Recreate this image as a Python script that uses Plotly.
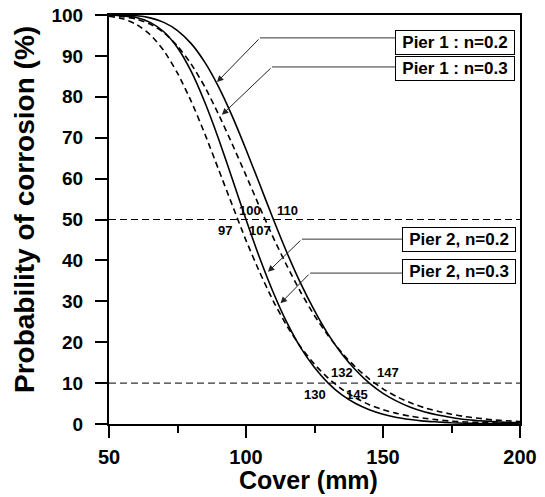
import plotly.graph_objects as go

# ---- data ----
cover = [50, 55, 60, 65, 70, 75, 80, 85, 90, 95, 100, 105, 110, 115, 120, 125, 130,
         135, 140, 145, 150, 155, 160, 165, 170, 175, 180, 185, 190, 195, 200]

pier1_n02 = [100.0, 99.9, 99.8, 99.3, 98.2, 96.2, 93.0, 88.4, 82.4, 75.2, 67.1, 58.6, 50.0,
             41.8, 34.3, 27.7, 21.9, 17.1, 13.2, 10.0, 7.5, 5.6, 4.1, 3.0, 2.2, 1.6, 1.1,
             0.8, 0.6, 0.4, 0.3]
pier1_n03 = [99.9, 99.6, 99.0, 97.8, 95.7, 92.4, 88.0, 82.4, 75.7, 68.4, 60.8, 53.0, 45.5,
             38.6, 32.2, 26.5, 21.6, 17.4, 13.9, 11.0, 8.6, 6.7, 5.2, 4.0, 3.1, 2.4, 1.8,
             1.4, 1.0, 0.8, 0.6]
pier2_n02 = [100.0, 99.8, 99.4, 98.2, 95.9, 92.0, 86.2, 78.6, 69.7, 59.9, 50.0, 40.6, 32.1,
             24.7, 18.6, 13.8, 10.0, 7.1, 5.0, 3.5, 2.4, 1.6, 1.1, 0.7, 0.5, 0.3, 0.2,
             0.1, 0.1, 0.1, 0.0]
pier2_n03 = [99.7, 99.1, 97.7, 95.2, 91.3, 85.8, 78.9, 70.9, 62.2, 53.5, 44.9, 37.1, 30.0,
             23.9, 18.8, 14.6, 11.2, 8.5, 6.4, 4.7, 3.5, 2.6, 1.9, 1.4, 1.0, 0.7, 0.5,
             0.4, 0.3, 0.2, 0.1]

thresholds = [50, 10]
cover_at_50 = [97, 100, 107, 110]
cover_at_10 = [130, 132, 145, 147]

series_names = ["Pier 1 : n=0.2", "Pier 1 : n=0.3", "Pier 2, n=0.2", "Pier 2, n=0.3"]
x_ticks = [50, 100, 150, 200]
y_ticks = [0, 10, 20, 30, 40, 50, 60, 70, 80, 90, 100]
x_title = "Cover (mm)"
y_title = "Probability of corrosion (%)"

FONT = "Liberation Sans, Arial, Helvetica, sans-serif"

fig = go.Figure()
styles = [
    (pier1_n02, "solid"),
    (pier1_n03, "6px,4px"),
    (pier2_n02, "solid"),
    (pier2_n03, "6px,4px"),
]
for name, (vals, dash) in zip(series_names, styles):
    fig.add_trace(go.Scatter(x=cover, y=vals, mode="lines", name=name,
                             line=dict(color="black", width=1.6, dash=dash, shape="spline",
                                       smoothing=0.6),
                             showlegend=False))

# threshold lines
for t in thresholds:
    fig.add_shape(type="line", x0=50, x1=200, y0=t, y1=t, xref="x", yref="y",
                  line=dict(color="black", width=1, dash="7px,4px"))

# crossing value labels
lab_font = dict(family=FONT, size=13, color="black", weight="bold")
pos50 = [(92.3, 47.2), (101.5, 52.2), (105.1, 47.2), (115.1, 52.2)]
for v, (px, py) in zip(cover_at_50, pos50):
    fig.add_annotation(x=px, y=py, text=str(v), showarrow=False, font=lab_font)
pos10 = [(125.2, 7.3), (135.1, 12.5), (140.4, 7.3), (151.7, 12.5)]
for v, (px, py) in zip(cover_at_10, pos10):
    fig.add_annotation(x=px, y=py, text=str(v), showarrow=False, font=lab_font)

# legend boxes with leader lines
box_font = dict(family=FONT, size=17, color="black", weight="bold")
boxes = [
    # (box x, box y, box width, line start x, line y, elbow x, tip x, tip y)
    (176.3, 93.2, 114, 154.4, 94.4, 105.1, 89.4, 83.6),
    (176.3, 87.0, 114, 154.4, 87.3, 109.5, 91.2, 75.6),
    (177.6, 45.0, 108, 156.9, 45.2, 120.4, 108.0, 37.2),
    (177.6, 37.2, 108, 156.9, 36.9, 123.4, 112.6, 29.5),
]
for name, (bx, by, bw, lx, ly, ex, tx, ty) in zip(series_names, boxes):
    fig.add_shape(type="line", x0=lx, x1=ex, y0=ly, y1=ly, xref="x", yref="y",
                  line=dict(color="#333", width=1))
    fig.add_annotation(x=tx, y=ty, ax=ex, ay=ly, axref="x", ayref="y", xref="x", yref="y",
                       text="", showarrow=True, arrowhead=2, arrowsize=1.3,
                       arrowwidth=1, arrowcolor="#222")
    fig.add_annotation(x=bx, y=by, text=name, showarrow=False, font=box_font,
                       bordercolor="black", borderwidth=1, borderpad=2,
                       bgcolor="white", width=bw, height=19)

# axis titles
title_font = dict(family=FONT, size=25, color="black", weight="bold")
fig.add_annotation(x=0.485, y=-0.137, xref="paper", yref="paper", text=x_title,
                   showarrow=False, font=title_font, xanchor="center", yanchor="middle")
fig.add_annotation(x=-0.205, y=0.525, xref="paper", yref="paper", text=y_title,
                   textangle=-90, showarrow=False,
                   font=dict(family=FONT, size=28, color="black", weight="bold"),
                   xanchor="center", yanchor="middle")

# the page body adds an 8px offset, so the figure is 8px smaller on each side
fig.update_layout(
    width=537, height=489,
    margin=dict(l=101, r=25, t=7, b=73, autoexpand=False),
    plot_bgcolor="white", paper_bgcolor="white",
    font=dict(family=FONT, color="black"),
)
fig.update_xaxes(
    range=[50, 200], tickvals=x_ticks, ticks="outside", ticklen=12, tickwidth=2,
    tickcolor="black", showline=True, linewidth=2, linecolor="black", mirror=True,
    showgrid=False, zeroline=False, automargin=False, ticklabelstandoff=2,
    ticklabeloverflow="allow",
    tickfont=dict(family=FONT, size=20, weight="bold"),
    minor=dict(tickvals=[75, 125, 175], ticks="outside", ticklen=7, tickwidth=2,
               tickcolor="black"),
)
fig.update_yaxes(
    range=[0, 100], tickvals=y_ticks, ticks="outside", ticklen=12, tickwidth=2,
    tickcolor="black", showline=True, linewidth=2, linecolor="black", mirror=True,
    showgrid=False, zeroline=False, automargin=False, ticklabelstandoff=8,
    ticklabeloverflow="allow",
    tickfont=dict(family=FONT, size=19, weight="bold"),
)

fig.write_html("out.html")
